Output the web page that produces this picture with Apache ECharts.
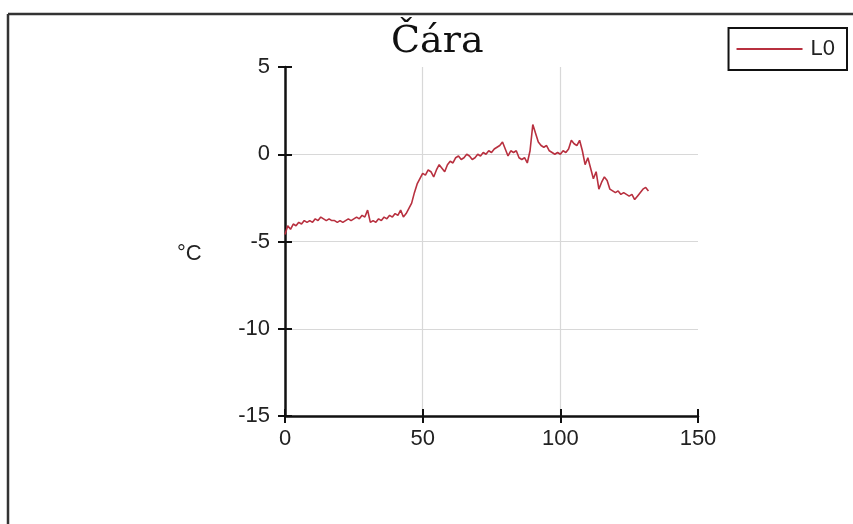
<!DOCTYPE html>
<html>
<head>
<meta charset="utf-8">
<script src="https://cdn.jsdelivr.net/npm/echarts@6/dist/echarts.min.js"></script>
<style>html,body{margin:0;padding:0;background:#fff}#c{width:853px;height:524px}</style>
</head>
<body>
<div id="c"></div>
<script>
var titleText = 'Čára';
var seriesName = 'L0';
var yUnit = '°C';
var xTicks = [0, 50, 100, 150];
var yTicks = [-15, -10, -5, 0, 5];
var values = [
 -4.6,-4.1,-4.3,-4.0,-4.1,-3.9,-4.0,-3.8,-3.9,-3.8,
 -3.9,-3.7,-3.8,-3.6,-3.7,-3.8,-3.7,-3.8,-3.8,-3.9,
 -3.8,-3.9,-3.8,-3.7,-3.8,-3.7,-3.6,-3.7,-3.5,-3.6,
 -3.2,-3.9,-3.8,-3.9,-3.7,-3.8,-3.6,-3.7,-3.5,-3.6,
 -3.4,-3.5,-3.2,-3.6,-3.4,-3.1,-2.8,-2.2,-1.7,-1.4,
 -1.1,-1.2,-0.9,-1.0,-1.3,-0.9,-0.6,-0.8,-1.0,-0.6,
 -0.4,-0.5,-0.2,-0.1,-0.3,-0.2,0.0,-0.1,-0.3,-0.2,
 0.0,-0.1,0.1,0.0,0.2,0.1,0.3,0.4,0.5,0.7,
 0.3,-0.1,0.2,0.1,0.2,-0.2,-0.3,-0.2,-0.5,0.2,
 1.7,1.2,0.7,0.5,0.4,0.5,0.2,0.1,0.0,0.1,
 0.0,0.2,0.1,0.3,0.8,0.6,0.5,0.8,0.2,-0.6,
 -0.2,-0.8,-1.4,-1.0,-2.0,-1.6,-1.3,-1.5,-2.0,-2.1,
 -2.2,-2.1,-2.3,-2.2,-2.3,-2.4,-2.3,-2.6,-2.4,-2.2,
 -2.0,-1.9,-2.1
];
var data = values.map(function(v, i){ return [i, v]; });

var chart = echarts.init(document.getElementById('c'));
var labelFont = {fontFamily:'Liberation Sans', fontSize:22, color:'#222'};
var axisLine = {show:true, onZero:false, lineStyle:{color:'#111', width:2.5}};
var hiddenLine = {show:true, onZero:false, lineStyle:{color:'#fff', opacity:0, width:0}};
var tickStyle = {color:'#111', width:2};
var xMin = xTicks[0], xMax = xTicks[xTicks.length-1], xInt = xTicks[1]-xTicks[0];
var yMin = yTicks[0], yMax = yTicks[yTicks.length-1], yInt = yTicks[1]-yTicks[0];
chart.setOption({
  animation:false,
  backgroundColor:'#fff',
  title:{text:titleText, left:386, top:18, textStyle:{fontFamily:'DejaVu Serif', fontSize:38, fontWeight:'normal', color:'#111'}},
  legend:{right:6, top:28, itemWidth:66, itemHeight:14, itemGap:4, borderColor:'#111', borderWidth:2, padding:[10,12,10,8], borderRadius:0,
    textStyle:{fontFamily:'Liberation Sans', fontSize:22, color:'#222', padding:[0,0,0,3]}, data:[{name:seriesName, icon:'path://M0,6L66,6L66,8L0,8Z'}]},
  grid:{left:285, right:155, top:67, bottom:108},
  xAxis:[
    {type:'value', min:xMin, max:xMax, interval:xInt, position:'bottom', axisLine:axisLine,
     axisTick:{show:true, length:7, lineStyle:tickStyle},
     axisLabel:Object.assign({margin:12}, labelFont),
     splitLine:{show:true, showMinLine:false, showMaxLine:false, lineStyle:{color:'#d8d8d8', width:1.2}}},
    {type:'value', min:xMin, max:xMax, interval:xInt, position:'bottom', axisLine:hiddenLine,
     axisTick:{show:true, inside:true, length:7, lineStyle:tickStyle},
     axisLabel:{show:false}, splitLine:{show:false}}
  ],
  yAxis:[
    {type:'value', min:yMin, max:yMax, interval:yInt, position:'left', axisLine:axisLine,
     axisTick:{show:true, length:7, lineStyle:tickStyle},
     axisLabel:Object.assign({margin:15}, labelFont),
     splitLine:{show:true, showMinLine:false, showMaxLine:false, lineStyle:{color:'#d8d8d8', width:1.2}}},
    {type:'value', min:yMin, max:yMax, interval:yInt, position:'left', axisLine:hiddenLine,
     axisTick:{show:true, inside:true, length:7, lineStyle:tickStyle},
     axisLabel:{show:false}, splitLine:{show:false}}
  ],
  graphic:[
    {type:'line', shape:{x1:8, y1:14, x2:853, y2:14}, style:{stroke:'#333', lineWidth:2.5}},
    {type:'line', shape:{x1:8, y1:14, x2:8, y2:524}, style:{stroke:'#333', lineWidth:2.5}},
    {type:'text', left:177, top:243, style:{text:yUnit, fontFamily:'Liberation Sans', fontSize:22, fill:'#222'}}
  ],
  series:[{name:seriesName, type:'line', data:data, symbol:'none', xAxisIndex:0, yAxisIndex:0,
    lineStyle:{color:'#b8303f', width:1.6}, itemStyle:{color:'#b8303f'}}]
});
</script>
</body>
</html>
